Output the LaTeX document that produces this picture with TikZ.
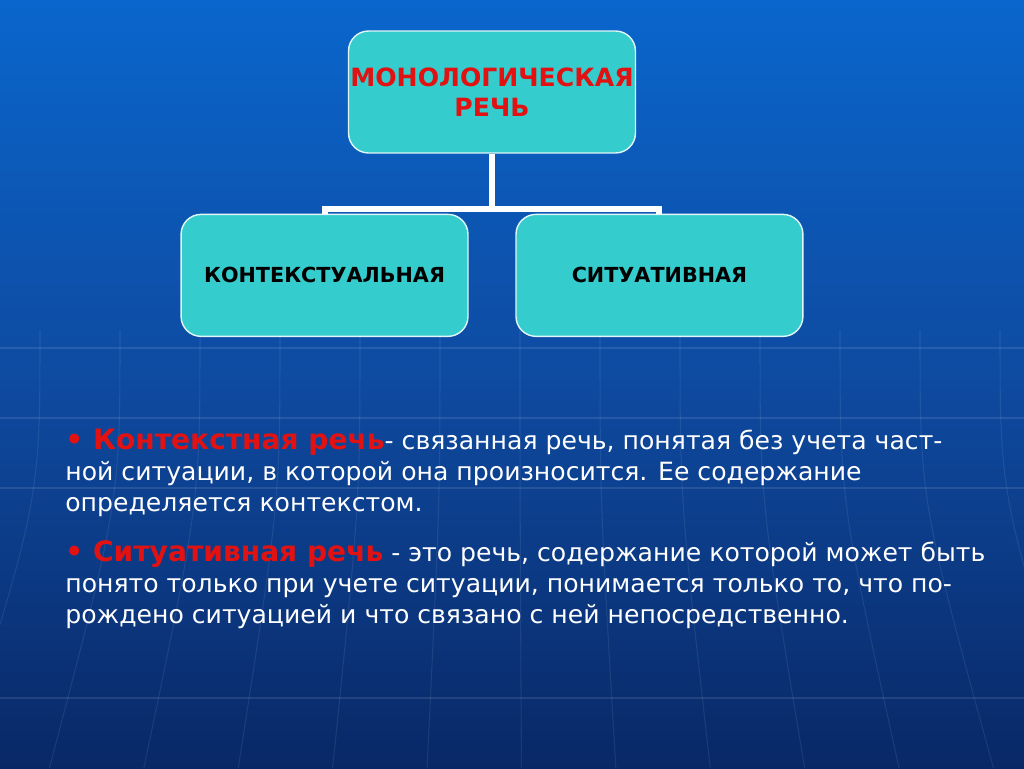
\documentclass[tikz,border=0pt]{standalone}
\usepackage{fontspec}
\setmainfont{DejaVu Sans}
\usepackage{tikz}
\usetikzlibrary{positioning, calc}
\usepackage{xcolor}

\definecolor{bgtop}{RGB}{10,102,204}
\definecolor{bgmid}{RGB}{14,74,160}
\definecolor{bgbot}{RGB}{9,40,102}
\definecolor{turq}{RGB}{52,204,204}
\definecolor{redtxt}{RGB}{226,18,18}

\newcommand{\redterm}[1]{{\fontsize{16}{17.6}\bfseries\selectfont\color{redtxt}#1}}

\begin{document}
\begin{tikzpicture}[x=0.02cm, y=-0.02cm,
    box/.style={rectangle, rounded corners=0.4cm, draw=white!85!turq, line width=0.8pt, fill=turq,
                minimum width=5.74cm, minimum height=2.44cm, align=center},
    conn/.style={draw=white, line width=0.12cm},
    para/.style={anchor=west, inner sep=0pt, align=left, text=white,
                 font=\fontsize{14.3}{17.6}\selectfont},
    node distance=1.2cm]

% Background
\shade[top color=bgtop, bottom color=bgbot, middle color=bgmid] (0,0) rectangle (1024,768);
\useasboundingbox (0,0) rectangle (1024,768);
\foreach \yy in {348,418,488,698}
    \draw[white, opacity=0.1, line width=0.6pt] (0,\yy) -- (1024,\yy);
\foreach \xx in {40,120,200,280,360,440,520,600,680,760,840,920,1000}
    \draw[white, opacity=0.08, line width=0.6pt] (\xx,330) .. controls (\xx,500) .. ({\xx+(\xx-512)*0.18},768);

% Top
\node[box, inner xsep=1pt, font=\fontsize{14.3}{17}\bfseries\selectfont, text=redtxt] (mono) at (492,92) {МОНОЛОГИЧЕСКАЯ\\РЕЧЬ};

% Children
\node[box, font=\fontsize{11.8}{14}\bfseries\selectfont, below=of mono, xshift=-3.35cm] (kontekst) {КОНТЕКСТУАЛЬНАЯ};
\node[box, font=\fontsize{11.8}{14}\bfseries\selectfont, below=of mono, xshift=3.35cm] (situat) {СИТУАТИВНАЯ};

% Connectors
\draw[conn] (mono.south) -- ++(0,55) coordinate (fork);
\draw[conn] (kontekst.north) -- (kontekst.north |- fork) -- (situat.north |- fork) -- (situat.north);

% Text
\node[para] (defkont) at (65,473) {\redterm{• Контекстная речь}- связанная речь, понятая без учета част-\\
ной ситуации, в которой она произносится. Ее содержание\\
определяется контекстом.};
\node[para] (defsit) at (65,585) {\redterm{• Ситуативная речь} - это речь, содержание которой может быть\\
понято только при учете ситуации, понимается только то, что по-\\
рождено ситуацией и что связано с ней непосредственно.};

\end{tikzpicture}
\end{document}
